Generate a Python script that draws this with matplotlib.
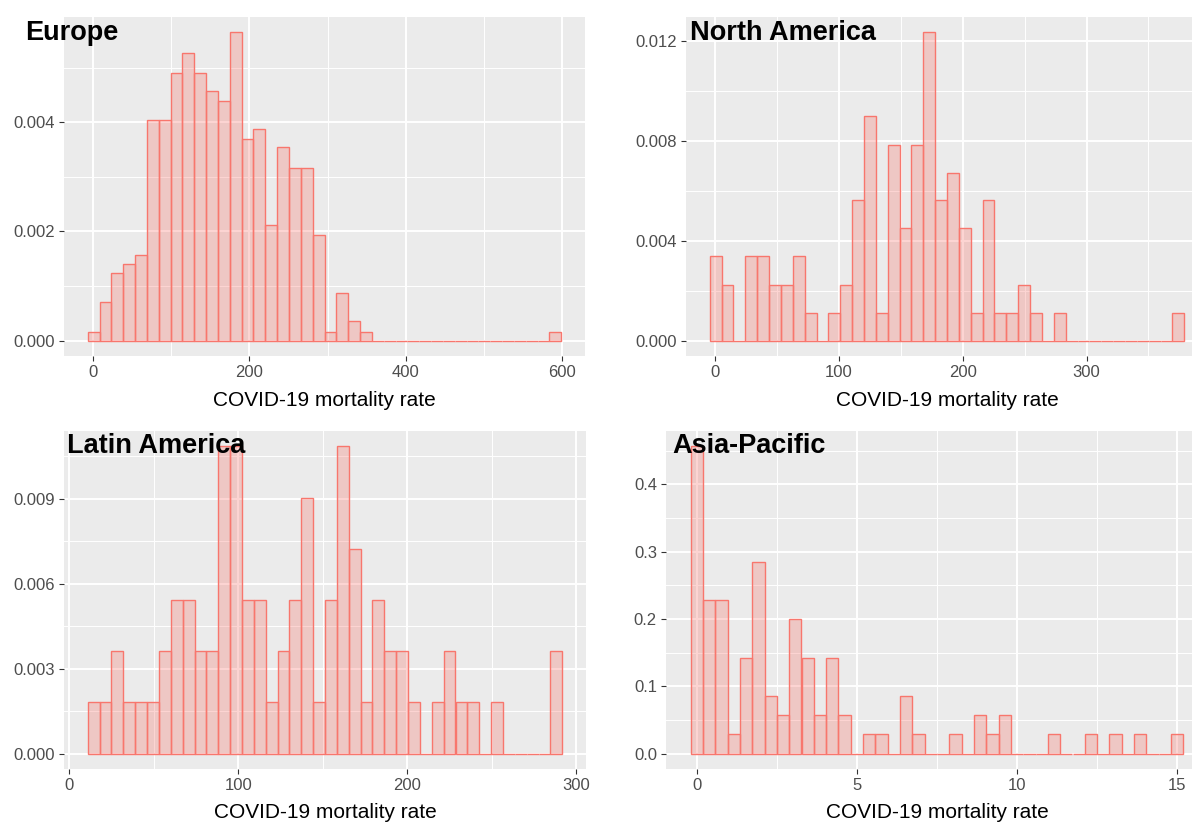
import matplotlib.pyplot as plt
import numpy as np

plt.rcParams["font.family"] = ["Liberation Sans", "DejaVu Sans"]

# density per bin, 40 equal bins per region
europe_density = [0.00016, 0.00071, 0.00123, 0.00141, 0.00157, 0.00405, 0.00405, 0.00491, 0.00527, 0.00491,
                  0.00458, 0.00439, 0.00565, 0.00369, 0.00387, 0.00212, 0.00354, 0.00316, 0.00316, 0.00194,
                  0.00016, 0.00087, 0.00035, 0.00016, 0, 0, 0, 0, 0, 0,
                  0, 0, 0, 0, 0, 0, 0, 0, 0, 0.00016]
namerica_density = [0.00337, 0.00224, 0, 0.00337, 0.00337, 0.00224, 0.00224, 0.00337, 0.00112, 0,
                    0.00112, 0.00224, 0.00561, 0.00898, 0.00112, 0.00785, 0.00449, 0.00785, 0.01234, 0.00561,
                    0.00673, 0.00449, 0.00112, 0.00561, 0.00112, 0.00112, 0.00224, 0.00112, 0, 0.00112,
                    0, 0, 0, 0, 0, 0, 0, 0, 0, 0.00112]
latam_density = [0.00181, 0.00181, 0.00361, 0.00181, 0.00181, 0.00181, 0.00361, 0.00542, 0.00542, 0.00361,
                 0.00361, 0.01084, 0.01084, 0.00542, 0.00542, 0.00181, 0.00361, 0.00542, 0.00903, 0.00181,
                 0.00542, 0.01084, 0.00722, 0.00181, 0.00542, 0.00361, 0.00361, 0.00181, 0, 0.00181,
                 0.00361, 0.00181, 0.00181, 0, 0.00181, 0, 0, 0, 0, 0.00361]
asiapac_density = [0.4566, 0.2283, 0.2283, 0.0285, 0.1427, 0.2854, 0.0856, 0.0571, 0.1998, 0.1427,
                   0.0571, 0.1427, 0.0571, 0, 0.0285, 0.0285, 0, 0.0856, 0.0285, 0,
                   0, 0.0285, 0, 0.0571, 0.0285, 0.0571, 0, 0, 0, 0.0285,
                   0, 0, 0.0285, 0, 0.0285, 0, 0.0285, 0, 0, 0.0285]

# outer bin edges of each histogram
europe_bins = (-6.9, 599.0)
namerica_bins = (-4.3, 378.9)
latam_bins = (11.1, 291.6)
asiapac_bins = (-0.19, 15.21)

regions = ["Europe", "North America", "Latin America", "Asia-Pacific"]
x_ticks = [[0, 200, 400, 600], [0, 100, 200, 300], [0, 100, 200, 300], [0, 5, 10, 15]]
y_ticks = [[0, 0.002, 0.004], [0, 0.004, 0.008, 0.012], [0, 0.003, 0.006, 0.009], [0, 0.1, 0.2, 0.3, 0.4]]
y_fmt = ["{:.3f}", "{:.3f}", "{:.3f}", "{:.1f}"]
xlabel = "COVID-19 mortality rate"

W, H = 1192, 823
# panel boxes in pixels: left, top, right, bottom
boxes = [(64, 17, 585, 356), (686, 17, 1208, 356), (64, 431, 586, 769), (666, 431, 1208, 769)]
title_pos = [(25, 40), (690, 40), (67, 453), (672, 453)]

fig = plt.figure(figsize=(W / 100, H / 100), dpi=100)

data = [(europe_density, europe_bins), (namerica_density, namerica_bins),
        (latam_density, latam_bins), (asiapac_density, asiapac_bins)]

for i, (dens, (lo, hi)) in enumerate(data):
    l, t, r, b = boxes[i]
    ax = fig.add_axes([l / W, 1 - b / H, (r - l) / W, (b - t) / H])
    ax.set_facecolor("#EBEBEB")
    for s in ax.spines.values():
        s.set_visible(False)

    edges = np.linspace(lo, hi, len(dens) + 1)
    ax.bar(edges[:-1], dens, width=np.diff(edges), align="edge",
           facecolor=(248 / 255, 118 / 255, 109 / 255, 0.3), edgecolor="#F8766D",
           linewidth=1.0, zorder=3)

    span = hi - lo
    ax.set_xlim(lo - 0.05 * span, hi + 0.05 * span)
    ymax = max(dens)
    ax.set_ylim(-0.05 * ymax, 1.05 * ymax)

    xt = x_ticks[i]
    yt = y_ticks[i]
    ax.set_xticks(xt)
    ax.set_xticklabels([str(v) for v in xt])
    ax.set_yticks(yt)
    ax.set_yticklabels([y_fmt[i].format(v) for v in yt])
    dx = xt[1] - xt[0]
    dy = yt[1] - yt[0]
    ax.set_xticks(np.arange(xt[0] - dx / 2, xt[-1] + dx, dx), minor=True)
    ax.set_yticks(np.arange(yt[0] - dy / 2, yt[-1] + dy, dy), minor=True)
    ax.set_xlim(lo - 0.05 * span, hi + 0.05 * span)
    ax.set_ylim(-0.05 * ymax, 1.05 * ymax)

    ax.grid(which="major", color="white", linewidth=1.4, zorder=0)
    ax.grid(which="minor", color="white", linewidth=0.7, zorder=0)
    ax.set_axisbelow(True)
    ax.tick_params(which="major", length=3.5, width=0.8, color="#333333",
                   labelsize=12, labelcolor="#4D4D4D", pad=3)
    ax.tick_params(which="minor", length=0)

    fig.text((l + r) / 2 / W, 1 - (b + 44) / H, xlabel, fontsize=15,
             ha="center", va="center", color="black")
    tx, ty = title_pos[i]
    fig.text(tx / W, 1 - ty / H, regions[i], fontsize=19.5, fontweight="bold",
             ha="left", va="baseline", color="black", zorder=10)

fig.savefig("out.png", dpi=100)
